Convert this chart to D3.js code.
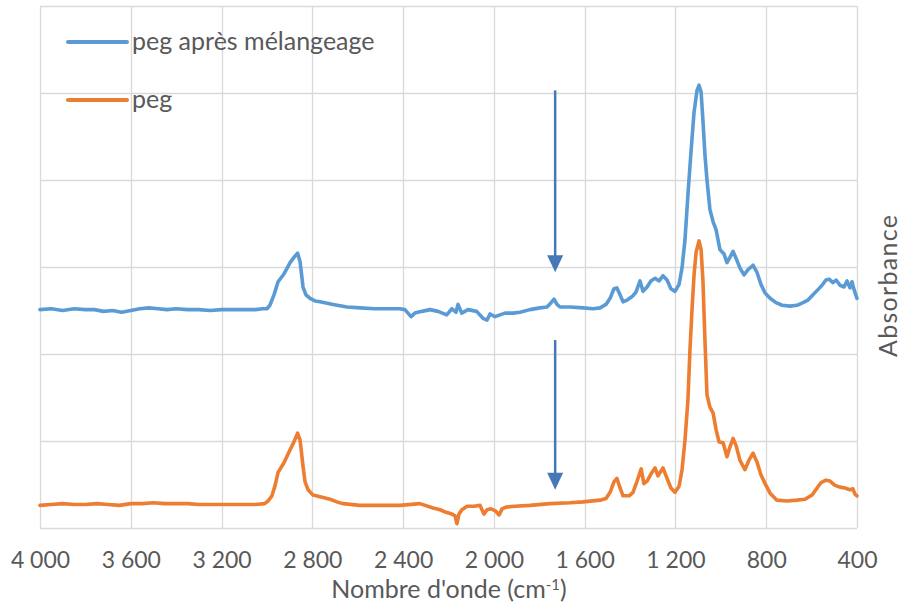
<!DOCTYPE html>
<html><head><meta charset="utf-8">
<script src="https://cdn.jsdelivr.net/npm/d3@7"></script>
<style>body{margin:0;background:#fff}svg{display:block}text{font-family:Lato,"Open Sans",sans-serif;fill:#595959}</style>
</head><body><svg id="c" width="903" height="603"></svg>
<script>
const seriesNames = ["peg après mélangeage", "peg"];
const seriesColors = ["#5b9bd5", "#ed7d31"];
const xTicks = [4000,3600,3200,2800,2400,2000,1600,1200,800,400];
const xTitle = "Nombre d'onde (cm";
const yTitle = "Absorbance";

const wnBlue = [4000,3950,3900,3850,3800,3760,3720,3680,3640,3600,
3560,3520,3480,3440,3400,3350,3300,3250,3200,3150,
3100,3050,3020,3000,2987,2969,2951,2925,2898,2881,
2865,2854,2841,2828,2810,2788,2766,2709,2647,2590,
2524,2458,2414,2392,2365,2348,2317,2281,2246,2208,
2185,2167,2158,2142,2114,2076,2048,2030,2017,1995,
1951,1916,1885,1841,1797,1766,1748,1735,1722,1709,
1665,1607,1563,1532,1506,1488,1471,1458,1444,1431,
1413,1391,1374,1356,1343,1325,1308,1290,1272,1255,
1237,1220,1202,1184,1171,1158,1145,1131,1118,1105,
1096,1087,1079,1070,1061,1048,1034,1021,1004,986,
973,960,946,933,916,898,880,858,841,823,
805,783,757,730,695,664,638,616,594,572,
554,537,523,506,492,475,457,444,431,422,
413,404,400];
const absBlue = [0.251,0.252,0.250,0.252,0.251,0.251,0.249,0.250,0.248,0.250,
0.252,0.253,0.252,0.251,0.252,0.251,0.251,0.250,0.251,0.251,
0.251,0.251,0.252,0.252,0.256,0.268,0.283,0.292,0.305,0.311,
0.316,0.306,0.277,0.268,0.264,0.261,0.260,0.257,0.254,0.253,
0.252,0.252,0.252,0.251,0.243,0.247,0.249,0.251,0.249,0.245,
0.252,0.248,0.257,0.247,0.251,0.249,0.241,0.239,0.246,0.243,
0.247,0.247,0.248,0.251,0.253,0.254,0.259,0.263,0.257,0.254,
0.254,0.253,0.252,0.253,0.257,0.264,0.275,0.276,0.268,0.260,
0.262,0.266,0.271,0.284,0.272,0.277,0.284,0.287,0.284,0.290,
0.285,0.275,0.272,0.280,0.299,0.331,0.383,0.434,0.478,0.503,
0.509,0.501,0.469,0.429,0.400,0.366,0.352,0.343,0.320,0.315,
0.305,0.311,0.318,0.310,0.299,0.291,0.297,0.302,0.294,0.280,
0.270,0.264,0.259,0.256,0.255,0.256,0.259,0.262,0.268,0.274,
0.279,0.285,0.286,0.282,0.285,0.279,0.277,0.284,0.276,0.283,
0.274,0.267,0.264];

const wnOrange = [4000,3950,3900,3850,3800,3750,3700,3650,3600,3550,
3500,3450,3400,3350,3300,3250,3200,3150,3100,3050,
3010,2995,2978,2964,2951,2925,2898,2881,2865,2854,
2841,2832,2819,2797,2766,2722,2691,2665,2590,2502,
2414,2326,2268,2237,2211,2185,2171,2163,2154,2141,
2118,2088,2061,2044,2030,2013,1995,1977,1964,1947,
1907,1841,1753,1665,1607,1532,1506,1488,1471,1458,
1444,1431,1404,1387,1369,1351,1339,1325,1308,1290,
1277,1255,1237,1220,1202,1184,1171,1158,1145,1136,
1127,1118,1109,1096,1087,1079,1070,1061,1048,1034,
1021,1008,990,973,960,946,933,916,894,876,
858,841,823,805,783,753,708,664,629,598,
576,559,537,519,497,475,453,431,418,409,
400];
const absOrange = [0.026,0.027,0.028,0.027,0.027,0.028,0.027,0.026,0.028,0.028,
0.029,0.028,0.028,0.028,0.027,0.027,0.027,0.027,0.027,0.027,
0.028,0.031,0.037,0.049,0.064,0.075,0.090,0.099,0.109,0.101,
0.071,0.053,0.044,0.038,0.036,0.033,0.030,0.028,0.026,0.026,
0.026,0.028,0.023,0.021,0.018,0.016,0.014,0.005,0.016,0.021,
0.025,0.025,0.026,0.016,0.021,0.022,0.020,0.015,0.022,0.024,
0.025,0.026,0.028,0.029,0.030,0.032,0.034,0.041,0.053,0.057,
0.046,0.037,0.037,0.041,0.054,0.068,0.051,0.054,0.062,0.069,
0.060,0.069,0.057,0.046,0.041,0.048,0.067,0.101,0.147,0.205,
0.251,0.291,0.317,0.330,0.320,0.285,0.216,0.153,0.139,0.132,
0.113,0.099,0.098,0.082,0.093,0.103,0.095,0.078,0.067,0.078,
0.086,0.076,0.061,0.051,0.040,0.032,0.031,0.032,0.033,0.038,
0.046,0.052,0.055,0.054,0.049,0.047,0.046,0.044,0.045,0.039,
0.037];

const arrowWn = 1730;
const arrowFrom = [0.503, 0.216];
const arrowTo = [0.294, 0.044];
const yGrid = [0,0.1,0.2,0.3,0.4,0.5,0.6];

const svg = d3.select("#c");
const x = d3.scaleLinear().domain([4000,400]).range([40,857]);
const y = d3.scaleLinear().domain([0,0.6]).range([528,6]);
const fr = d3.formatLocale({decimal:",",thousands:"\u00a0",grouping:[3],currency:["","€"]});
const fmt = fr.format(",d");

// grid
svg.append("g").selectAll("line").data(yGrid).join("line")
  .attr("x1",40).attr("x2",857).attr("y1",d=>Math.round(y(d))+0.5).attr("y2",d=>Math.round(y(d))+0.5)
  .attr("stroke","#d9d9d9").attr("stroke-width",1.3);
svg.append("g").selectAll("line").data(xTicks).join("line")
  .attr("y1",y(0.6)).attr("y2",y(0)).attr("x1",d=>Math.round(x(d))+0.5).attr("x2",d=>Math.round(x(d))+0.5)
  .attr("stroke","#d9d9d9").attr("stroke-width",1.3);

// axis labels
const xa = d3.axisBottom(x).tickValues(xTicks).tickFormat(fmt).tickSize(0).tickPadding(0);
const ga = svg.append("g").attr("transform","translate(0,528)").call(xa);
ga.select(".domain").remove();
ga.selectAll("text").attr("y",40).attr("dy",0).style("font-size","23px").attr("fill","#595959")
  .style("font-family","Lato, 'Open Sans', sans-serif");

const t = svg.append("text").attr("x",449).attr("y",598).attr("text-anchor","middle").style("font-size","25px").text(xTitle);
t.append("tspan").attr("dy",-8).style("font-size","15px").text("-1");
t.append("tspan").attr("dy",8).text(")");

svg.append("text").attr("transform","translate(897,286) rotate(-90)").attr("text-anchor","middle")
  .style("font-size","25px").attr("textLength",142).attr("lengthAdjust","spacing").text(yTitle);

// series
const line = d3.line().x(d=>x(d[0])).y(d=>y(d[1]));
const sBlue = wnBlue.map((w,i)=>[w,absBlue[i]]);
const sOrange = wnOrange.map((w,i)=>[w,absOrange[i]]);
[sBlue, sOrange].forEach((s,i)=>{
  svg.append("path").datum(s).attr("d",line).attr("fill","none")
    .attr("stroke",seriesColors[i]).attr("stroke-width",3.6)
    .attr("stroke-linejoin","round").attr("stroke-linecap","round");
});

// arrows
const ac = "#4677b8";
arrowFrom.forEach((a,i)=>{
  const xa = x(arrowWn), y0 = y(a), y1 = y(arrowTo[i]);
  svg.append("line").attr("x1",xa).attr("x2",xa).attr("y1",y0).attr("y2",y1-12)
    .attr("stroke",ac).attr("stroke-width",2.5);
  svg.append("path").attr("d",`M${xa-8},${y1-17}L${xa+8},${y1-17}L${xa},${y1}Z`).attr("fill",ac);
});

// legend
const lg = [[42,50],[100,108]];
seriesNames.forEach((n,i)=>{
  svg.append("line").attr("x1",68).attr("x2",127).attr("y1",lg[i][0]).attr("y2",lg[i][0])
    .attr("stroke",seriesColors[i]).attr("stroke-width",4).attr("stroke-linecap","round");
  svg.append("text").attr("x",132).attr("y",lg[i][1]).style("font-size","25px").text(n);
});
</script></body></html>
